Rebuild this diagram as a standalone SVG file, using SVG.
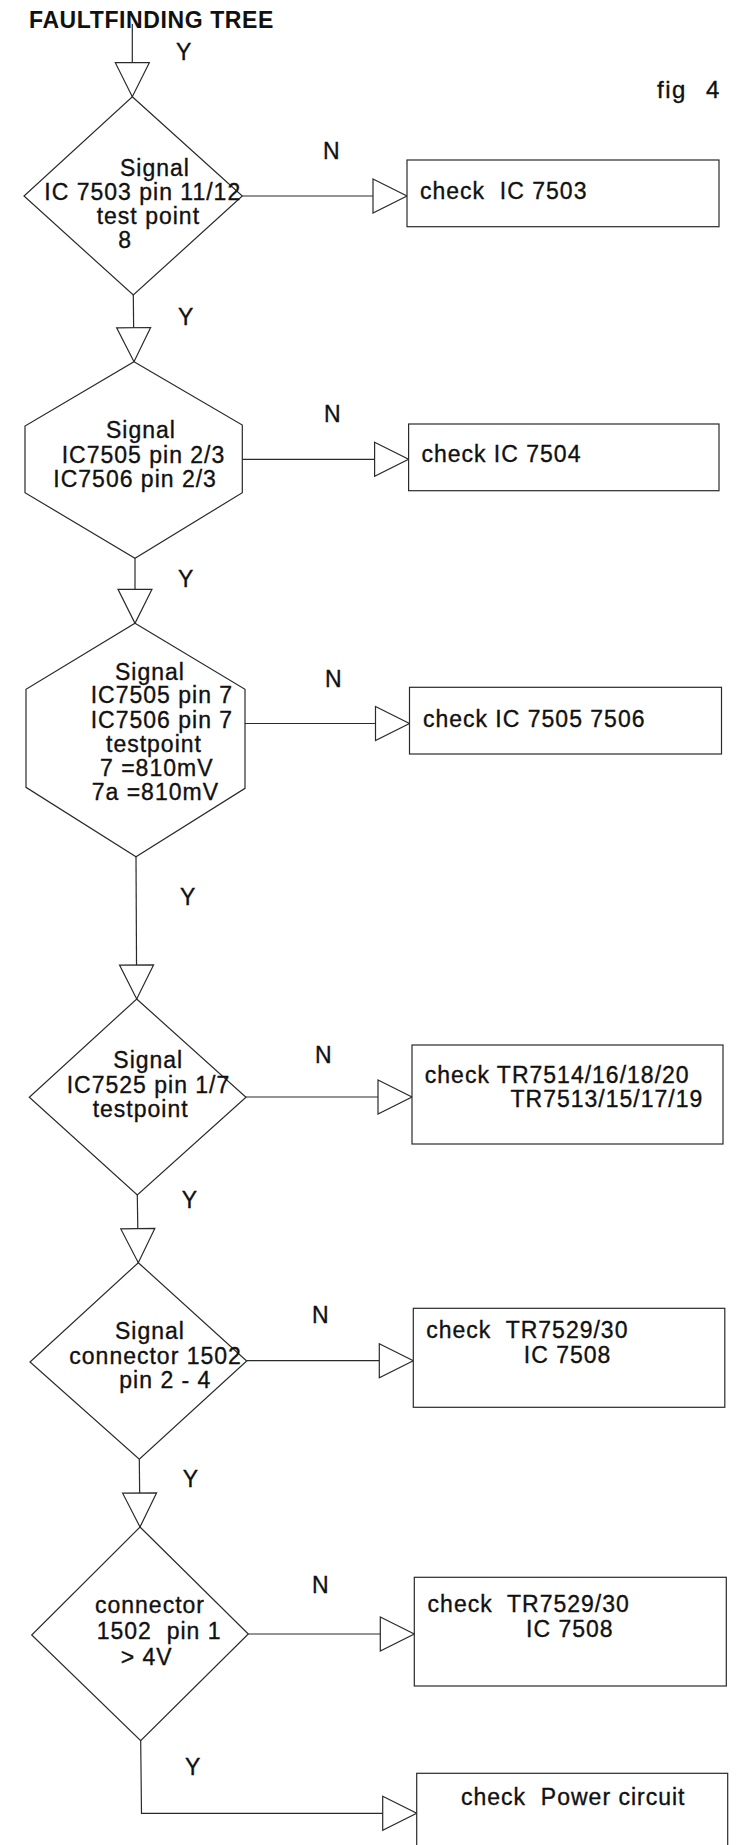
<svg xmlns="http://www.w3.org/2000/svg" width="740" height="1845" viewBox="0 0 740 1845">
<style>
.shape{fill:#fff;stroke:#2a2a2a;stroke-width:1.2}
.conn{fill:none;stroke:#2a2a2a;stroke-width:1.2}
.t{font-family:"Liberation Sans",Arial,sans-serif;font-size:23px;letter-spacing:1px;fill:#111;stroke:#111;stroke-width:0.35px;white-space:pre}
.title{font-family:"Liberation Sans",Arial,sans-serif;font-size:23px;font-weight:bold;letter-spacing:0.6px;fill:#111}
.fig{font-family:"Liberation Sans",Arial,sans-serif;font-size:24px;letter-spacing:1.5px;fill:#111;stroke:#111;stroke-width:0.35px}
</style>
<defs>
<marker id="arr" markerUnits="userSpaceOnUse" markerWidth="40" markerHeight="40" refX="34" refY="17" orient="auto" overflow="visible">
<path d="M0,0 L34,17 L0,34 Z" fill="#fff" stroke="#2a2a2a" stroke-width="1.2"/>
</marker>
</defs>
<rect width="740" height="1845" fill="#fff"/>

<g id="title">
<text class="title" x="29" y="28.3">FAULTFINDING TREE</text>
<text class="fig" x="657" y="98.3">fig <tspan x="706">4</tspan></text>
</g>

<g id="connectors">
<path class="conn" d="M132.3,24 L132.3,96.7" marker-end="url(#arr)"/>
<path class="conn" d="M133.3,295 L134,361.7" marker-end="url(#arr)"/>
<path class="conn" d="M135,558.3 L135,623.3" marker-end="url(#arr)"/>
<path class="conn" d="M136,856.7 L136.7,999" marker-end="url(#arr)"/>
<path class="conn" d="M137.3,1195 L138.3,1262.7" marker-end="url(#arr)"/>
<path class="conn" d="M139.3,1459.3 L140,1527" marker-end="url(#arr)"/>
<path class="conn" d="M140.7,1740.7 L141.5,1813.3 L416.7,1813.3" marker-end="url(#arr)"/>
<path class="conn" d="M242.3,196 L407,196" marker-end="url(#arr)"/>
<path class="conn" d="M242.3,459.3 L408.6,459.3" marker-end="url(#arr)"/>
<path class="conn" d="M245,723.5 L409.5,723.5" marker-end="url(#arr)"/>
<path class="conn" d="M246,1097 L412,1097" marker-end="url(#arr)"/>
<path class="conn" d="M246.7,1360.7 L413.3,1360.7" marker-end="url(#arr)"/>
<path class="conn" d="M248.3,1634 L414.3,1634" marker-end="url(#arr)"/>
<text class="t" x="176" y="60">Y</text>
<text class="t" x="178" y="325">Y</text>
<text class="t" x="178" y="586.7">Y</text>
<text class="t" x="180" y="905">Y</text>
<text class="t" x="181.7" y="1208">Y</text>
<text class="t" x="182.7" y="1487.3">Y</text>
<text class="t" x="185" y="1775">Y</text>
<text class="t" x="323" y="159.3">N</text>
<text class="t" x="324" y="421.7">N</text>
<text class="t" x="325" y="686.7">N</text>
<text class="t" x="315" y="1063.3">N</text>
<text class="t" x="312" y="1322.7">N</text>
<text class="t" x="312" y="1593.3">N</text>
</g>

<g id="d1">
<polygon class="shape" points="132.3,96.7 242.3,196 133.3,295 24,196"/>
<text class="t" x="120" y="176">Signal</text>
<text class="t" x="44.3" y="200">IC 7503 pin 11/12</text>
<text class="t" x="96.7" y="224">test point</text>
<text class="t" x="118.3" y="248.3">8</text>
</g>

<g id="d2">
<polygon class="shape" points="134,361.7 242.3,425 242.3,492.7 135,558.3 25,492.7 25,426"/>
<text class="t" x="106" y="438.3">Signal</text>
<text class="t" x="61.7" y="463.3">IC7505 pin 2/3</text>
<text class="t" x="53.3" y="487.3">IC7506 pin 2/3</text>
</g>

<g id="d3">
<polygon class="shape" points="135,623.3 245,689.3 245,788.3 136,856.7 26,787.3 26,689.3"/>
<text class="t" x="115" y="680">Signal</text>
<text class="t" x="90.7" y="703.3">IC7505 pin 7</text>
<text class="t" x="90.7" y="727.7">IC7506 pin 7</text>
<text class="t" x="106" y="751.7">testpoint</text>
<text class="t" x="100" y="776">7 =810mV</text>
<text class="t" x="91.7" y="800">7a =810mV</text>
</g>

<g id="d4">
<polygon class="shape" points="136.7,999 246,1097.3 137.3,1195 29.3,1097.3"/>
<text class="t" x="113.3" y="1068.3">Signal</text>
<text class="t" x="66.7" y="1093.3">IC7525 pin 1/7</text>
<text class="t" x="92.7" y="1116.7">testpoint</text>
</g>

<g id="d5">
<polygon class="shape" points="138.3,1262.7 246.7,1361 139.3,1459.3 30,1362"/>
<text class="t" x="115" y="1339.3">Signal</text>
<text class="t" x="69.3" y="1364">connector 1502</text>
<text class="t" x="119.3" y="1388.3">pin 2 - 4</text>
</g>

<g id="d6">
<polygon class="shape" points="140,1527 248.3,1634 140.7,1740.7 31.7,1635"/>
<text class="t" x="95" y="1612.7">connector</text>
<text class="t" x="96.7" y="1639.3">1502  pin 1</text>
<text class="t" x="120.7" y="1665">&gt; 4V</text>
</g>

<g id="b1">
<rect class="shape" x="407" y="160" width="312" height="66.7"/>
<text class="t" x="420" y="199.3">check  IC 7503</text>
</g>

<g id="b2">
<rect class="shape" x="408.6" y="424" width="310.4" height="66.7"/>
<text class="t" x="421.4" y="461.7">check IC 7504</text>
</g>

<g id="b3">
<rect class="shape" x="409.5" y="687.3" width="312" height="66.7"/>
<text class="t" x="422.9" y="726.7">check IC 7505 7506</text>
</g>

<g id="b4">
<rect class="shape" x="412" y="1045" width="311" height="99"/>
<text class="t" x="424.8" y="1082.7">check TR7514/16/18/20</text>
<text class="t" x="510.5" y="1106.7">TR7513/15/17/19</text>
</g>

<g id="b5">
<rect class="shape" x="413.3" y="1308.3" width="311.5" height="99"/>
<text class="t" x="426.2" y="1338.3">check  TR7529/30</text>
<text class="t" x="523.8" y="1362.7">IC 7508</text>
</g>

<g id="b6">
<rect class="shape" x="414.3" y="1577.3" width="312" height="108.7"/>
<text class="t" x="427.6" y="1611.7">check  TR7529/30</text>
<text class="t" x="526" y="1637.3">IC 7508</text>
</g>

<g id="b7">
<rect class="shape" x="416.7" y="1773.3" width="311" height="90"/>
<text class="t" x="461" y="1805">check  Power circuit</text>
</g>
</svg>
